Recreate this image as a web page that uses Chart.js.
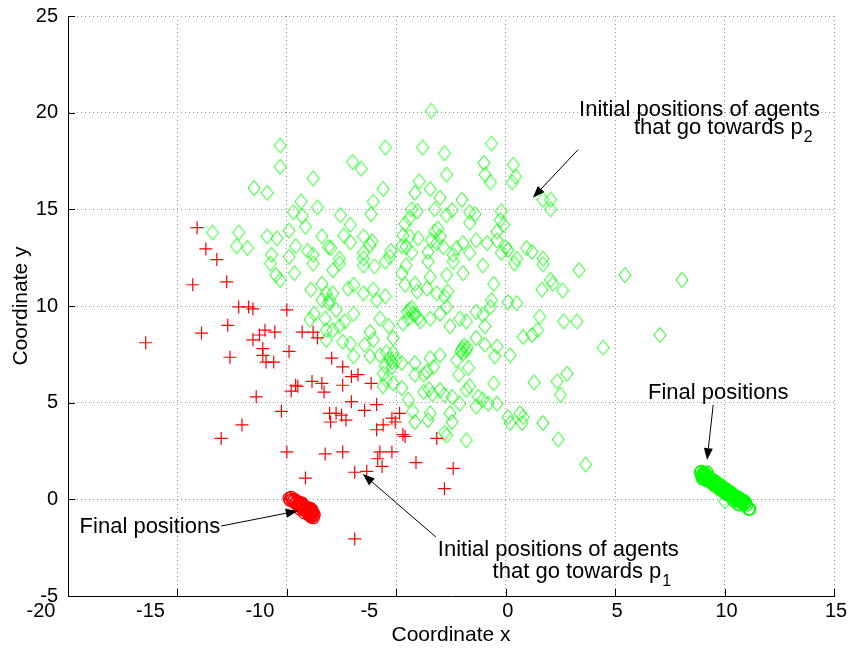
<!DOCTYPE html>
<html>
<head>
<meta charset="utf-8">
<script src="https://cdn.jsdelivr.net/npm/chart.js@4.4.0/dist/chart.umd.min.js"></script>
<style>
  html, body { margin: 0; padding: 0; background: #fff; }
  #wrap { width: 855px; height: 651px; }
</style>
</head>
<body>
<div id="wrap"><canvas id="plot" width="855" height="651"></canvas></div>
<script>
const xTicks = [-20, -15, -10, -5, 0, 5, 10, 15];
const yTicks = [-5, 0, 5, 10, 15, 20, 25];

// initial positions of agents that end at p2 (diamonds)
const greenStart = [
  [-3.4,20.1],[-10.3,18.3],[-10.3,17.2],[-8.8,16.6],[-11.5,16.1],[-10.9,15.85],[-9.35,15.4],[-8.6,15.1],
  [-9.7,14.85],[-9.3,14.65],[-9.15,14.1],[-13.4,13.8],[-12.2,13.8],[-10.9,13.6],[-10.45,13.5],[-9.9,13.9],
  [-12.3,13.1],[-11.8,13.0],[-9.6,13.1],[-9.05,12.85],[-8.4,13.6],[-8.1,13.05],[-10.7,12.65],[-9.9,12.55],[-8.8,12.65],
  [-5.5,18.2],[-3.8,18.2],[-2.8,17.9],[-0.65,18.4],[-7.0,17.45],[-6.6,17.1],[-2.7,16.8],[-1.0,17.4],[-0.95,16.8],
  [-0.7,16.4],[0.35,17.3],[0.45,16.7],[0.3,16.4],[-5.6,16.05],[-6.05,15.4],[-6.15,14.75],[-7.55,14.7],[-7.1,14.2],
  [-7.4,13.65],[-7.1,13.3],[-6.5,13.6],[-6.1,13.35],[-6.2,13.15],[-6.5,12.75],[-7.6,12.45],[-5.25,12.85],[-8.0,13.0],
  [-3.95,16.45],[-4.15,15.85],[-3.45,16.05],[-3.0,15.6],[-2.0,15.5],[-3.25,15.0],[-2.45,14.95],[-4.3,15.0],[-4.05,14.9],
  [-4.4,14.55],[-4.6,14.25],[-2.7,14.7],[-1.65,14.85],[-1.4,14.75],[-1.65,14.3],[-0.2,14.9],[-0.25,14.45],[-0.1,14.2],
  [-0.4,13.85],[0.0,13.05],[-4.7,13.65],[-4.4,13.6],[-4.0,13.5],[-4.55,13.05],[-4.3,12.75],[-4.75,13.1],[-3.1,14.0],
  [-3.25,13.85],[-3.0,13.6],[-3.4,13.4],[-3.15,13.25],[-2.85,13.05],[-3.55,12.8],[-2.25,13.0],[-1.95,13.25],[-1.35,13.4],
  [-0.85,13.25],[-0.4,13.4],[-0.2,12.75],[0.1,12.9],[0.5,12.45],[0.95,13.0],[-2.4,12.65],[-1.65,12.75],[-5.3,12.55],[-6.5,12.45],
  [1.7,15.5],[2.05,15.5],[2.05,15.0],[1.2,12.8],[1.7,12.45],
  [1.7,12.15],[3.35,11.85],[5.45,11.6],[8.05,11.35],[2.05,11.35],[2.15,11.15],[1.65,10.85],[2.6,10.8],[1.55,9.45],
  [2.65,9.2],[3.25,9.2],[1.45,8.75],[1.2,8.5],[4.45,7.85],[7.05,8.5],[2.8,6.5],[2.35,6.1],[1.3,6.05],[2.5,5.4],
  [1.7,3.95],[3.65,1.8],[2.4,3.1],
  [-7.6,12.2],[-6.5,12.1],[-6.0,12.05],[-5.5,12.3],[-4.75,11.7],[-4.55,12.1],[-3.55,12.3],[-4.15,11.15],[-3.45,11.5],
  [-2.7,11.6],[-1.95,11.7],[-2.4,12.3],[-1.05,12.1],[-0.55,11.15],[0.4,12.2],[-7.9,11.85],[-7.2,10.9],[-6.95,11.1],
  [-6.5,10.65],[-6.05,10.85],[-5.5,10.5],[-5.9,10.3],[-7.9,10.65],[-8.05,10.3],[-4.05,10.75],[-4.6,11.1],[-3.6,10.9],
  [-3.15,10.65],[-2.65,10.75],[-2.8,10.5],[-0.65,10.3],[0.1,10.2],[0.5,10.15],
  [-4.4,9.8],[-4.15,9.55],[-4.45,9.35],[-4.7,9.1],[-3.9,9.2],[-3.45,9.35],[-3.0,9.6],[-2.7,9.95],[-2.55,8.95],
  [-2.1,9.35],[-1.8,9.2],[-1.35,9.7],[-1.05,9.55],[-0.7,9.95],[-0.95,8.95],[-1.35,8.35],[-0.95,8.0],[-0.4,7.9],
  [0.2,7.45],[0.8,8.4],
  [-7.75,9.8],[-7.35,9.2],[-7.6,8.95],[-7.9,8.75],[-6.95,9.6],[-6.2,8.65],[-5.75,9.35],[-5.35,8.95],[-5.15,8.35],
  [-6.05,8.25],[-6.45,8.0],[-7.1,8.05],[-7.45,8.15],[-6.95,7.4],[-6.2,7.4],[-5.75,7.45],[-5.15,7.55],[-5.0,7.2],
  [-4.75,7.05],[-5.2,6.85],[-5.6,6.5],[-5.45,6.15],[-5.15,6.0],[-4.75,5.75],[-5.6,5.85],[-4.15,7.05],[-3.45,7.3],
  [-3.3,6.85],[-3.6,6.6],[-3.75,6.45],[-4.15,6.45],[-3.0,7.45],[-2.25,7.2],[-2.0,7.8],[-1.8,7.7],[-1.95,7.55],
  [-1.7,6.8],[-2.15,6.45],[-0.5,7.4],[-0.55,6.0],[-1.8,5.65],[-1.65,5.85],[-3.0,5.65],[-3.75,5.55],[-2.8,5.4],
  [-2.45,5.3],[-2.1,4.95],[-1.25,5.3],[-1.05,5.15],[-0.8,4.95],[-4.25,4.55],[-4.45,5.15],[-3.45,4.45],[-2.55,4.45],
  [-1.35,4.8],[-0.4,4.95],[0.8,4.25],[0.1,4.25],[0.65,4.45],
  [-10.75,12.2],[-10.5,11.6],[-10.3,11.35],[-9.65,11.7],[-8.8,12.2],[-8.9,10.85],[-8.4,11.15],[-8.2,10.65],[-8.4,10.3],
  [-8.1,10.15],[-8.75,9.6],[-8.95,9.3],[-8.25,9.35],[-8.2,8.75],[-8.2,8.25],
  [-4.15,4.0],[-3.55,4.1],[-2.45,4.0],[-2.8,3.45],[-2.7,3.3],[-1.8,3.05],[0.2,3.95],[0.75,3.95],[10.0,-0.1],
  [-4.3,9.9],[-4.25,9.6],[-4.5,9.7],[-4.0,9.4],[-1.9,7.95],[-2.05,7.65],[-1.75,7.85],
  [-5.3,7.25],[-5.45,7.6],[-5.2,7.1],[-5.5,6.9],[-3.5,5.7],[-3.35,5.45]
];

// initial positions of agents that end at p1 (plus signs)
const redStart = [
  [-14.1,14.05],[-13.7,12.95],[-13.2,12.4],[-14.3,11.1],[-12.75,11.25],[-12.2,9.95],[-11.75,9.95],[-11.55,9.85],
  [-10.0,9.8],[-12.7,9.0],[-13.9,8.6],[-16.45,8.1],[-11.0,8.75],[-10.55,8.65],[-11.25,8.5],[-11.55,8.25],[-11.1,7.8],
  [-11.1,7.45],[-10.95,7.1],[-10.6,7.1],[-12.6,7.35],[-9.3,8.65],[-8.8,8.65],[-8.6,8.35],[-9.9,7.65],[-8.85,6.1],
  [-8.4,6.0],[-8.3,5.55],[-9.6,5.9],[-9.5,5.85],[-9.8,5.6],[-11.4,5.3],[-10.25,4.55],[-8.05,4.45],
  [-7.95,7.3],[-7.45,6.85],[-7.05,6.35],[-6.75,6.45],[-7.45,5.9],[-6.15,6.0],[-7.05,5.05],[-5.9,4.9],[-6.45,4.6],
  [-7.75,4.45],[-7.5,4.35],[-4.85,4.45],[-5.2,4.2],
  [-7.45,2.45],[-5.9,3.6],[-5.6,3.85],[-5.05,4.0],[-4.7,3.35],[-4.6,3.25],[-3.15,3.15],[-5.75,2.45],[-5.2,2.45],
  [-5.85,2.1],[-5.65,1.7],[-4.1,1.9],[-2.4,1.6],[-6.9,1.4],[-6.35,1.45],[-2.8,0.55],[-6.9,-2.05],[-8.0,4.0],[-7.3,4.1],
  [-12.05,3.85],[-13.0,3.15],[-10.0,2.45],[-8.25,2.35],[-9.15,1.1]
];

// final positions (circles)
const greenFinal = [
  [8.9,1.4],[8.95,1.2],[9.0,1.3],[9.05,1.1],[9.1,1.25],[9.15,1.0],[9.2,1.15],[9.25,0.95],[9.3,1.05],[9.35,0.9],
  [9.4,1.0],[9.45,0.8],[9.5,0.85],[9.55,0.7],[9.6,0.8],[9.65,0.65],[9.7,0.7],[9.75,0.55],[9.8,0.6],[9.85,0.45],
  [9.9,0.5],[9.95,0.4],[10.0,0.45],[10.05,0.3],[10.1,0.35],[10.15,0.25],[10.2,0.3],[10.25,0.2],[10.3,0.15],[10.35,0.2],
  [10.4,0.1],[10.45,0.15],[10.5,0.05],[10.55,0.1],[10.6,0.0],[10.65,0.05],[10.7,-0.05],[10.75,0.0],[10.8,-0.1],
  [10.85,-0.05],[10.9,-0.2],[10.6,-0.25],[10.4,-0.05],[9.2,1.4],[9.0,1.05],[11.1,-0.5],
  [8.95,1.45],[9.0,1.2],[9.05,1.35],[9.1,1.1],[9.15,1.3],[9.2,1.05],[9.25,1.2],[9.3,0.95],[9.35,1.1],[9.4,0.9],
  [9.45,1.0],[9.5,0.8],[9.55,0.95],[9.6,0.7],[9.65,0.85],[9.7,0.65],[9.75,0.8],[9.8,0.55],[9.85,0.7],[9.9,0.5],
  [9.95,0.6],[10.0,0.4],[10.05,0.55],[10.1,0.3],[10.15,0.45],[10.2,0.25],[10.25,0.4],[10.3,0.15],[10.35,0.3],[10.4,0.1],
  [10.45,0.2],[10.5,0.0],[10.55,0.15],[10.6,-0.05],[10.65,0.1],[10.7,-0.1],[10.75,0.0],[10.8,-0.2],[10.85,-0.05],
  [10.9,-0.25],[10.95,-0.15],[11.0,-0.3],[11.15,-0.5],[10.7,-0.3]
];
const redFinal = [
  [-9.9,0.05],[-9.85,-0.05],[-9.8,0.1],[-9.75,0.0],[-9.7,-0.1],[-9.65,0.0],[-9.6,-0.2],[-9.55,-0.15],[-9.5,-0.3],
  [-9.45,-0.25],[-9.4,-0.35],[-9.35,-0.3],[-9.3,-0.45],[-9.25,-0.4],[-9.2,-0.5],[-9.15,-0.45],[-9.1,-0.6],[-9.05,-0.55],
  [-9.0,-0.65],[-8.95,-0.6],[-8.9,-0.75],[-8.85,-0.7],[-8.8,-0.85],[-8.9,-0.9],[-9.0,-0.8],[-9.2,-0.7],[-9.4,-0.5],
  [-8.85,-0.55],[-9.3,-0.2],[-8.95,-0.45],
  [-9.55,-0.1],[-9.5,-0.3],[-9.45,-0.15],[-9.4,-0.35],[-9.35,-0.2],[-9.3,-0.45],[-9.25,-0.3],[-9.2,-0.55],[-9.15,-0.4],
  [-9.1,-0.65],[-9.05,-0.5],[-9.0,-0.75],[-8.95,-0.55],[-8.9,-0.85],[-8.85,-0.65],[-8.8,-0.95],[-8.75,-0.8],[-8.8,-0.7],
  [-8.9,-0.6],[-9.0,-0.5]
];

// annotation texts and arrows, anchored in data units
const noteLines = [
  { text: "Initial positions of agents", x: 3.35, y: 19.83 },
  { text: "that go towards p", sub: "2", x: 5.86, y: 18.9 },
  { text: "Final positions", x: 6.5, y: 5.2 },
  { text: "Final positions", x: -19.47, y: -1.74 },
  { text: "Initial positions of agents", x: -3.1, y: -2.93 },
  { text: "that go towards p", sub: "1", x: -0.6, y: -4.07 }
];
const noteArrows = [
  { from: [3.3, 18.08], to: [1.24, 15.6] },
  { from: [9.48, 4.88], to: [9.2, 2.03] },
  { from: [-13.0, -1.38], to: [-9.5, -0.6] },
  { from: [-3.19, -1.95], to: [-6.53, 1.31] }
];

const FONT = "'Liberation Sans', Arial, Helvetica, sans-serif";

function toPoints(list) {
  return list.map(p => ({ x: p[0], y: p[1] }));
}

// MATLAB-like diamond: a bit taller than wide
function makeDiamond(color) {
  const c = document.createElement("canvas");
  c.width = 14;
  c.height = 18;
  const g = c.getContext("2d");
  g.strokeStyle = color;
  g.lineWidth = 1;
  g.beginPath();
  g.moveTo(7, 1.5);
  g.lineTo(13, 9);
  g.lineTo(7, 16.5);
  g.lineTo(1, 9);
  g.closePath();
  g.stroke();
  return c;
}

// draws x tick labels, texts, arrows and the inward tick marks
const notesPlugin = {
  id: "notes",
  afterDraw(chart) {
    const ctx = chart.ctx;
    const sx = chart.scales.x;
    const sy = chart.scales.y;
    const area = chart.chartArea;
    ctx.save();

    // tick marks pointing into the plot
    ctx.strokeStyle = "#000";
    ctx.lineWidth = 1;
    ctx.beginPath();
    xTicks.forEach(v => {
      const px = Math.round(sx.getPixelForValue(v)) + 0.5;
      ctx.moveTo(px, area.bottom);
      ctx.lineTo(px, area.bottom - 7);
    });
    yTicks.forEach(v => {
      const py = Math.round(sy.getPixelForValue(v)) + 0.5;
      ctx.moveTo(area.left, py);
      ctx.lineTo(area.left + 7, py);
    });
    ctx.stroke();

    // x tick labels (negative ones sit left of their tick, as in the original)
    ctx.fillStyle = "#000";
    ctx.font = "20px " + FONT;
    ctx.textAlign = "center";
    ctx.textBaseline = "top";
    xTicks.forEach(v => {
      const px = sx.getPixelForValue(v) + (v < 0 ? -27 : 2);
      ctx.fillText(String(v), px, area.bottom + 5);
    });

    // text
    ctx.textBaseline = "alphabetic";
    ctx.textAlign = "left";
    noteLines.forEach(n => {
      const px = sx.getPixelForValue(n.x);
      const py = sy.getPixelForValue(n.y);
      ctx.font = "22px " + FONT;
      ctx.fillText(n.text, px, py);
      if (n.sub) {
        const w = ctx.measureText(n.text).width;
        ctx.font = "16px " + FONT;
        ctx.fillText(n.sub, px + w + 1, py + 8);
      }
    });

    // arrows
    noteArrows.forEach(a => {
      const x1 = sx.getPixelForValue(a.from[0]);
      const y1 = sy.getPixelForValue(a.from[1]);
      const x2 = sx.getPixelForValue(a.to[0]);
      const y2 = sy.getPixelForValue(a.to[1]);
      const ang = Math.atan2(y2 - y1, x2 - x1);
      const len = 12, half = 4.5;
      const bx = x2 - len * Math.cos(ang);
      const by = y2 - len * Math.sin(ang);
      ctx.beginPath();
      ctx.moveTo(x1, y1);
      ctx.lineTo(bx, by);
      ctx.stroke();
      ctx.beginPath();
      ctx.moveTo(x2, y2);
      ctx.lineTo(bx + half * Math.sin(ang), by - half * Math.cos(ang));
      ctx.lineTo(bx - half * Math.sin(ang), by + half * Math.cos(ang));
      ctx.closePath();
      ctx.fill();
    });
    ctx.restore();
  }
};

const ctx = document.getElementById("plot").getContext("2d");
new Chart(ctx, {
  type: "scatter",
  data: {
    datasets: [
      {
        label: "final p2",
        data: toPoints(greenFinal),
        pointStyle: "circle",
        pointRadius: 6,
        borderColor: "#00ff00",
        backgroundColor: "rgba(0,0,0,0)",
        borderWidth: 1.3,
        order: 1
      },
      {
        label: "final p1",
        data: toPoints(redFinal),
        pointStyle: "circle",
        pointRadius: 6,
        borderColor: "#ff0000",
        backgroundColor: "rgba(0,0,0,0)",
        borderWidth: 1.3,
        order: 2
      },
      {
        label: "start p1",
        data: toPoints(redStart),
        pointStyle: "cross",
        pointRadius: 6.5,
        borderColor: "#ff0000",
        backgroundColor: "#ff0000",
        borderWidth: 1.2,
        order: 3
      },
      {
        label: "start p2",
        data: toPoints(greenStart),
        pointStyle: makeDiamond("#00ff00"),
        pointRadius: 7,
        borderColor: "#00ff00",
        backgroundColor: "rgba(0,0,0,0)",
        borderWidth: 1,
        order: 4
      }
    ]
  },
  options: {
    responsive: false,
    animation: false,
    devicePixelRatio: 1,
    layout: { padding: { top: 16, right: 21, left: 0, bottom: 0 } },
    plugins: {
      legend: { display: false },
      tooltip: { enabled: false }
    },
    scales: {
      x: {
        type: "linear",
        min: -20,
        max: 15,
        afterBuildTicks: s => { s.ticks = xTicks.map(v => ({ value: v })); },
        afterFit: s => { s.height = 55; s.paddingLeft = 0; s.paddingRight = 0; },
        grid: { color: "#999", lineWidth: 1, drawTicks: false },
        border: { display: true, color: "#000", width: 1, dash: [1, 3] },
        ticks: { display: false },
        title: { display: true, text: "Coordinate x", color: "#000", padding: { top: 0, bottom: 3 }, font: { family: FONT, size: 21 } }
      },
      y: {
        type: "linear",
        min: -5,
        max: 25,
        afterBuildTicks: s => { s.ticks = yTicks.map(v => ({ value: v })); },
        afterFit: s => { s.width = 68; s.paddingTop = 0; s.paddingBottom = 0; },
        grid: { color: "#999", lineWidth: 1, drawTicks: false },
        border: { display: true, color: "#000", width: 1, dash: [1, 3] },
        ticks: { color: "#000", padding: 10, font: { family: FONT, size: 20 } },
        title: { display: true, text: "Coordinate y", color: "#000", padding: { top: 9, bottom: 0 }, font: { family: FONT, size: 21 } }
      }
    }
  },
  plugins: [notesPlugin]
});
</script>
</body>
</html>
